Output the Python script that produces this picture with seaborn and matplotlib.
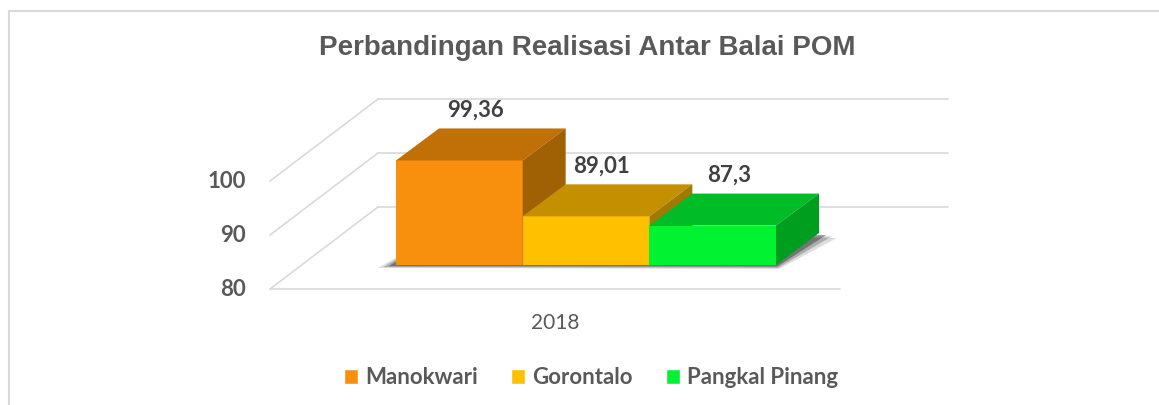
import matplotlib
matplotlib.use("Agg")
import matplotlib.pyplot as plt
import seaborn as sns
import pandas as pd
from matplotlib.patches import Polygon
from matplotlib.lines import Line2D

# data
tahun = ["2018"]
balai = ["Manokwari", "Gorontalo", "Pangkal Pinang"]
nilai = [99.36, 89.01, 87.3]
y_ticks = [80, 90, 100]

# colours: front, top and side face of each 3D bar
warna_depan = ["#F8900E", "#FFC000", "#00F231"]
warna_atas = ["#C07006", "#C49000", "#00BC26"]
warna_sisi = ["#A06004", "#A07A00", "#009E1E"]

df = pd.DataFrame({"tahun": tahun * len(balai), "balai": balai, "nilai": nilai})

sns.set_theme(style="white")
plt.rcParams["font.family"] = ["Lato", "DejaVu Sans"]

W, H = 1159, 405
fig = plt.figure(figsize=(W / 100, H / 100), dpi=100)
# axes = plane of the bars' front faces
ax = fig.add_axes([301 / W, 140 / H, 570 / W, 135 / H])
sns.barplot(data=df, x="tahun", y="nilai", hue="balai", hue_order=balai,
            palette=warna_depan, width=0.8, saturation=1, ax=ax, legend=True)
ax.set_xlim(-0.6, 0.6)
ax.set_ylim(80, 105)
ax.set_axis_off()

px_x = 570 / 1.2
px_y = 135 / 25


def geser(x, y, d):
    # shift a data point by a pixel offset (oblique depth)
    return (x + d[0] / px_x, y + d[1] / px_y)


depan = (-31, -24)     # front edge of the floor
belakang = (77, 58)    # back wall
tebal = (43, 32)       # depth of the bars
grid_kw = dict(color="#D9D9D9", lw=1.2, zorder=1, clip_on=False)

xl, xr = ax.get_xlim()
lantai = ax.get_ylim()[0]
for t in y_ticks:
    a = geser(xl, t, belakang)
    b = geser(xr, t, belakang)
    ax.plot([a[0], b[0]], [a[1], b[1]], **grid_kw)
    c = geser(xl, t, depan)
    ax.plot([c[0], a[0]], [c[1], a[1]], **grid_kw)
    ax.annotate(str(t), xy=(xl, t), xytext=(depan[0] - 24, depan[1]),
                textcoords="offset pixels", ha="right", va="center",
                fontsize=16, fontweight="bold", color="#595959",
                annotation_clip=False)
c = geser(xl, lantai, depan)
d = geser(xr, lantai, depan)
ax.plot([c[0], d[0]], [c[1], d[1]], **grid_kw)

bars = sorted([c[0] for c in ax.containers], key=lambda p: p.get_x())

# soft shadow under the block
x_a = bars[0].get_x()
x_b = bars[-1].get_x() + bars[-1].get_width()
for k, al in zip([1.0, 0.7, 0.4], [0.15, 0.25, 0.4]):
    pts = [geser(x_a, lantai, (-18 * k, -3 * k)),
           geser(x_b, lantai, (3 * k, -4 * k)),
           geser(x_b, lantai, (tebal[0] + 18 * k, tebal[1] - 5 * k)),
           geser(x_a, lantai, (tebal[0], tebal[1]))]
    ax.add_patch(Polygon(pts, closed=True, facecolor="#202020", edgecolor="none",
                         alpha=al, zorder=5, clip_on=False))

for i, p in enumerate(bars):
    x0 = p.get_x()
    x1 = x0 + p.get_width()
    v = p.get_height()
    p.set_y(lantai)
    p.set_height(v - lantai)
    p.set_edgecolor("none")
    p.set_zorder(10 + 3 * i)
    atas = [(x0, v), (x1, v), geser(x1, v, tebal), geser(x0, v, tebal)]
    sisi = [(x1, lantai), (x1, v), geser(x1, v, tebal), geser(x1, lantai, tebal)]
    ax.add_patch(Polygon(atas, closed=True, facecolor=warna_atas[i], edgecolor="none",
                         zorder=11 + 3 * i, clip_on=False))
    ax.add_patch(Polygon(sisi, closed=True, facecolor=warna_sisi[i], edgecolor="none",
                         zorder=11 + 3 * i, clip_on=False))
    ax.annotate(f"{v:g}".replace(".", ","), xy=((x0 + x1) / 2, v),
                xytext=(16, tebal[1] + 18), textcoords="offset pixels",
                ha="center", va="center", fontsize=16, fontweight="bold",
                color="#404040", zorder=40, annotation_clip=False)

ax.annotate(tahun[0], xy=(0, lantai), xytext=(depan[0], -58),
            textcoords="offset pixels", ha="center", va="center",
            fontsize=15, color="#595959", annotation_clip=False)

fig.text(587 / W, 1 - 48 / H, "Perbandingan Realisasi Antar Balai POM",
         ha="center", va="center", fontsize=20, fontweight="bold",
         color="#595959", family=["Liberation Sans", "DejaVu Sans"])

sns.move_legend(ax, "center", bbox_to_anchor=(591 / W, 27 / H),
                bbox_transform=fig.transFigure, ncol=3, frameon=False,
                title=None, fontsize=16, handlelength=0.65, handleheight=0.65,
                handletextpad=0.3, columnspacing=1.5)
for t in ax.get_legend().get_texts():
    t.set_color("#595959")
    t.set_fontweight("bold")

# light frame at the top and left like the original chart area
fig.add_artist(Line2D([9 / W, 1], [1 - 11 / H, 1 - 11 / H], color="#D9D9D9", lw=1.5))
fig.add_artist(Line2D([9 / W, 9 / W], [0, 1 - 11 / H], color="#D9D9D9", lw=1.5))

fig.savefig("out.png", dpi=100)
